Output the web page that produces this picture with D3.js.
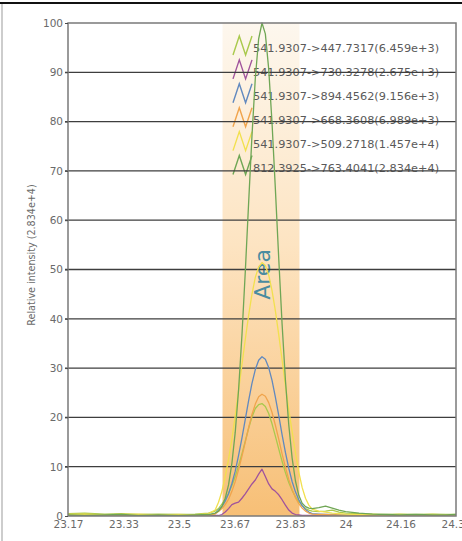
<!DOCTYPE html>
<html><head><meta charset="utf-8">
<script src="https://cdn.jsdelivr.net/npm/d3@7"></script>
<style>
html,body{margin:0;padding:0;background:#fff;overflow:hidden;}
svg{display:block;}
</style></head>
<body>
<svg id="chart" width="462" height="541"></svg>
<script>
// ---------- data ----------
const retentionTimes = [
  23.17, 23.22, 23.28, 23.33, 23.38, 23.44, 23.50, 23.55, 23.59, 23.61,
  23.62, 23.63, 23.64, 23.65, 23.66, 23.67, 23.68, 23.69, 23.70, 23.71,
  23.72, 23.73, 23.74, 23.75, 23.76, 23.77, 23.78, 23.79, 23.80, 23.81,
  23.82, 23.83, 23.84, 23.85, 23.86, 23.87, 23.88, 23.89, 23.90,
  23.92, 23.94, 23.96, 23.98, 24.00, 24.04, 24.08, 24.12, 24.16, 24.21, 24.26, 24.30, 24.33
];
const seriesNames = [
  "541.9307->447.7317(6.459e+3)",
  "541.9307->730.3278(2.675e+3)",
  "541.9307->894.4562(9.156e+3)",
  "541.9307->668.3608(6.989e+3)",
  "541.9307->509.2718(1.457e+4)",
  "812.3925->763.4041(2.834e+4)"
];
const seriesColors = ["#a9c94c", "#a0539c", "#6189bf", "#f0a44c", "#f2e04e", "#6fa655"];
const lime447 = [
  0.5, 0.6, 0.4, 0.5, 0.3, 0.4, 0.3, 0.4, 0.6, 1.0,
  1.5, 2.4, 3.4, 4.6, 6.2, 8.0, 10.2, 12.6, 15.2, 17.8,
  20.1, 21.8, 22.6, 22.8, 22.2, 20.8, 18.7, 16.2, 13.6, 11.1,
  8.8, 6.8, 5.2, 3.9, 2.9, 2.1, 1.5, 1.2, 1.0,
  0.9, 1.0, 1.2, 0.8, 0.6, 0.5, 0.4, 0.3, 0.4, 0.3, 0.4, 0.3, 0.3
];
const purple730 = [
  0.1, 0.0, 0.1, 0.1, 0.0, 0.1, 0.1, 0.0, 0.1, 0.1,
  0.1, 0.3, 0.8, 1.5, 2.3, 2.6, 2.8, 3.6, 4.5, 5.5,
  6.5, 7.3, 8.5, 9.5, 8.0, 6.5, 5.5, 5.0, 4.3, 3.3,
  2.2, 1.2, 0.6, 0.3, 0.2, 0.1, 0.1, 0.1, 0.1,
  0.1, 0.1, 0.0, 0.1, 0.1, 0.0, 0.1, 0.1, 0.0, 0.1, 0.1, 0.0, 0.1
];
const blue894 = [
  0.1, 0.1, 0.1, 0.2, 0.1, 0.1, 0.2, 0.1, 0.2, 0.5,
  1.2, 1.9, 3.0, 4.5, 6.6, 9.1, 12.3, 15.8, 19.6, 23.4,
  26.9, 29.7, 31.6, 32.3, 31.8, 30.1, 27.5, 24.1, 20.4, 16.5,
  12.9, 9.7, 7.0, 4.9, 3.3, 2.1, 1.3, 0.8, 0.5,
  0.4, 0.3, 0.3, 0.2, 0.2, 0.1, 0.1, 0.1, 0.1, 0.1, 0.1, 0.1, 0.1
];
const orange668 = [
  0.1, 0.2, 0.1, 0.1, 0.2, 0.1, 0.1, 0.2, 0.2, 0.4,
  0.9, 1.5, 2.3, 3.4, 5.0, 7.0, 9.4, 12.1, 15.0, 17.9,
  20.6, 22.7, 24.2, 24.7, 24.3, 23.0, 21.0, 18.4, 15.6, 12.6,
  9.9, 7.4, 5.4, 3.7, 2.5, 1.6, 1.0, 0.6, 0.4,
  0.3, 0.3, 0.2, 0.2, 0.1, 0.1, 0.2, 0.1, 0.1, 0.1, 0.2, 0.1, 0.1
];
const yellow509 = [
  0.3, 0.4, 0.2, 0.3, 0.4, 0.2, 0.3, 0.2, 0.5, 1.2,
  2.8, 5.0, 8.0, 11.5, 15.6, 20.3, 25.5, 30.7, 35.8, 40.7,
  45.0, 48.4, 50.5, 51.4, 50.8, 48.9, 45.7, 41.6, 36.8, 31.7,
  26.5, 21.6, 17.1, 12.8, 8.9, 5.8, 3.6, 2.2, 1.4,
  1.0, 0.8, 0.6, 0.5, 0.4, 0.3, 0.3, 0.2, 0.3, 0.2, 0.3, 0.2, 0.2
];
const green763 = [
  0.2, 0.1, 0.2, 0.3, 0.1, 0.2, 0.1, 0.2, 0.3, 0.6,
  1.0, 1.9, 3.6, 6.3, 10.7, 17.0, 25.6, 36.6, 49.5, 63.5,
  77.1, 88.8, 96.8, 100, 97.8, 90.7, 79.7, 66.3, 52.3, 39.0,
  27.6, 18.5, 11.8, 7.1, 4.2, 2.6, 1.9, 1.6, 1.5,
  1.7, 2.0, 1.6, 1.2, 0.9, 0.6, 0.4, 0.3, 0.2, 0.3, 0.2, 0.2, 0.3
];
const seriesValues = [lime447, purple730, blue894, orange668, yellow509, green763];
const integrationWindow = [23.632, 23.862];
const xTickValues = [23.17, 23.336, 23.502, 23.668, 23.834, 24.0, 24.164, 24.33];
const xTickLabels = ["23.17", "23.33", "23.5", "23.67", "23.83", "24", "24.16", "24.33"];
const yTickValues = [0, 10, 20, 30, 40, 50, 60, 70, 80, 90, 100];
const yAxisTitle = "Relative intensity (2.834e+4)";
const areaLabel = "Area";

// ---------- layout ----------
const svg = d3.select("#chart");
const L = 68, R = 456, T = 23, B = 516;
const x = d3.scaleLinear().domain([23.17, 24.33]).range([L, R]);
const y = d3.scaleLinear().domain([0, 100]).range([B, T]);
const font = "'DejaVu Sans', Verdana, sans-serif";

// window chrome
svg.append("line").attr("x1", 0).attr("x2", 462).attr("y1", 3).attr("y2", 3)
  .attr("stroke", "#111").attr("stroke-width", 2);
svg.append("line").attr("x1", 2).attr("x2", 2).attr("y1", 4).attr("y2", 541)
  .attr("stroke", "#bdbdbd").attr("stroke-width", 1.5);

const defs = svg.append("defs");
const grad = defs.append("linearGradient").attr("id", "shade")
  .attr("x1", 0).attr("x2", 0).attr("y1", 0).attr("y2", 1);
grad.append("stop").attr("offset", "0%").attr("stop-color", "#fdf7ee");
grad.append("stop").attr("offset", "45%").attr("stop-color", "#fde4c2");
grad.append("stop").attr("offset", "100%").attr("stop-color", "#f7bf76");
defs.append("clipPath").attr("id", "plotclip").append("rect")
  .attr("x", L).attr("y", T - 1).attr("width", R - L).attr("height", B - T + 1);

// shaded integration window
svg.append("rect")
  .attr("x", x(integrationWindow[0])).attr("y", T)
  .attr("width", x(integrationWindow[1]) - x(integrationWindow[0]))
  .attr("height", B - T).attr("fill", "url(#shade)");

// Area label
svg.append("text")
  .attr("transform", `translate(${x(23.754) + 7},${y(49)}) rotate(-90)`)
  .attr("text-anchor", "middle")
  .attr("font-family", font).attr("font-size", 22)
  .attr("fill", "#4a8ca0").text(areaLabel);

// legend
const legend = svg.append("g");
seriesNames.forEach((name, i) => {
  const cy = 48 + i * 23.9;
  const g = legend.append("g").attr("transform", `translate(233,${cy})`);
  g.append("polyline")
    .attr("points", [[0, 7], [6.3, -12], [12.6, 7], [19, -12]].map(p => p.join(",")).join(" "))
    .attr("fill", "none").attr("stroke", seriesColors[i]).attr("stroke-width", 1.4);
  g.append("text").attr("x", 20).attr("y", 0).attr("dy", "0.36em")
    .attr("font-family", font).attr("font-size", 11.3).attr("fill", "#5a5a5a")
    .text(name);
});

// gridlines
svg.append("g").selectAll("line").data(yTickValues.filter(v => v > 0 && v < 100)).join("line")
  .attr("x1", L - 3).attr("x2", R).attr("y1", d => y(d)).attr("y2", d => y(d))
  .attr("stroke", "#3e3e3e").attr("stroke-width", 1.3);

// series lines
const line = d3.line().x((d, i) => x(retentionTimes[i])).y(d => y(d));
const lines = svg.append("g").attr("clip-path", "url(#plotclip)");
seriesValues.forEach((vals, i) => {
  lines.append("path").attr("d", line(vals))
    .attr("fill", "none").attr("stroke", seriesColors[i])
    .attr("stroke-width", 1.3).attr("stroke-linejoin", "round");
});

// frame
svg.append("rect").attr("x", L).attr("y", T).attr("width", R - L).attr("height", B - T)
  .attr("fill", "none").attr("stroke", "#7a7a7a").attr("stroke-width", 1.5);

// axes
const yAxis = d3.axisLeft(y).tickValues(yTickValues).tickSize(3).tickPadding(2);
const gy = svg.append("g").attr("transform", `translate(${L},0)`).call(yAxis);
gy.select(".domain").remove();
gy.selectAll("line").attr("stroke", "#4a4a4a");
gy.selectAll("text").attr("font-family", font).attr("font-size", 10.5).attr("fill", "#6a6a6a");

const xAxis = d3.axisBottom(x).tickValues(xTickValues)
  .tickFormat((d, i) => xTickLabels[i]).tickSize(0).tickPadding(5);
const gx = svg.append("g").attr("transform", `translate(0,${B})`).call(xAxis);
gx.select(".domain").remove();
gx.selectAll("text").attr("font-family", font).attr("font-size", 10.5).attr("fill", "#6a6a6a");

// y title
svg.append("text")
  .attr("transform", `translate(35,${255}) rotate(-90)`)
  .attr("text-anchor", "middle").attr("font-family", font).attr("font-size", 9.6)
  .attr("fill", "#6a6a6a").text(yAxisTitle);
</script>
</body></html>
